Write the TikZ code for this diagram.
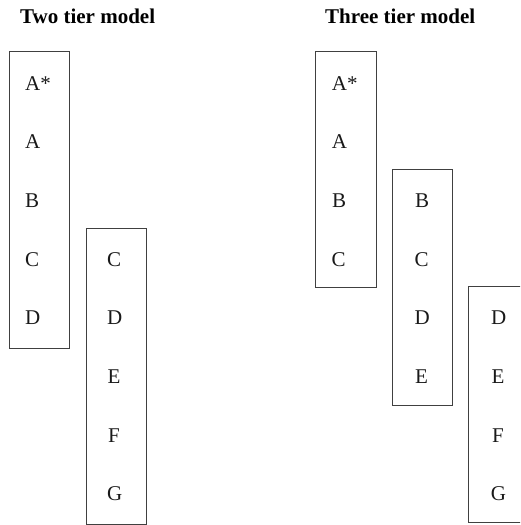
\documentclass[tikz,border=0pt]{standalone}
\usepackage{fontspec}
\setmainfont{Liberation Serif}
\begin{document}
\begin{tikzpicture}[x=1pt,y=-1pt,
  tierbox/.style={draw=black!75, line width=0.9pt, inner sep=0pt, anchor=north west},
  item/.style={inner sep=0pt, anchor=base west, font=\fontsize{21}{24}\selectfont, text=black!90},
  heading/.style={inner sep=0pt, anchor=base west, font=\fontsize{21}{24}\selectfont\bfseries}]
\useasboundingbox (0,0) rectangle (520,525);
\clip (0,0) rectangle (520,525);
% titles
\node[heading] (t1) at (20,23.3) {Two tier model};
\node[heading] (t2) at (325,23.3) {Three tier model};
% boxes
\node[tierbox, minimum width=60.5pt, minimum height=297pt] (b1) at (8.5,51) {};
\node[tierbox, minimum width=60.5pt, minimum height=296.5pt] (b2) at (85.5,227.5) {};
\node[tierbox, minimum width=61pt, minimum height=236pt] (b3) at (315,51) {};
\node[tierbox, minimum width=60pt, minimum height=236pt] (b4) at (392,169) {};
\node[tierbox, minimum width=61pt, minimum height=236pt] (b5) at (468.3,286) {};
% box 1
\node[item] (b1a) at (25,90) {A*};
\node[item] (b1b) at (25,148.7) {A};
\node[item] (b1c) at (25,207.3) {B};
\node[item] (b1d) at (25,266) {C};
\node[item] (b1e) at (25,324.7) {D};
% box 2
\node[item] (b2a) at (107,266) {C};
\node[item] (b2b) at (107,324.7) {D};
\node[item] (b2c) at (107.5,383.3) {E};
\node[item] (b2d) at (108,442) {F};
\node[item] (b2e) at (107,500.7) {G};
% box 3
\node[item] (b3a) at (331.7,90) {A*};
\node[item] (b3b) at (331.7,148.7) {A};
\node[item] (b3c) at (332,207.3) {B};
\node[item] (b3d) at (331.5,266) {C};
% box 4
\node[item] (b4a) at (415,207.3) {B};
\node[item] (b4b) at (414.5,266) {C};
\node[item] (b4c) at (414.5,324.7) {D};
\node[item] (b4d) at (415,383.3) {E};
% box 5
\node[item] (b5a) at (491,324.7) {D};
\node[item] (b5b) at (491.5,383.3) {E};
\node[item] (b5c) at (492,442) {F};
\node[item] (b5d) at (490.7,500.7) {G};
\end{tikzpicture}
\end{document}
